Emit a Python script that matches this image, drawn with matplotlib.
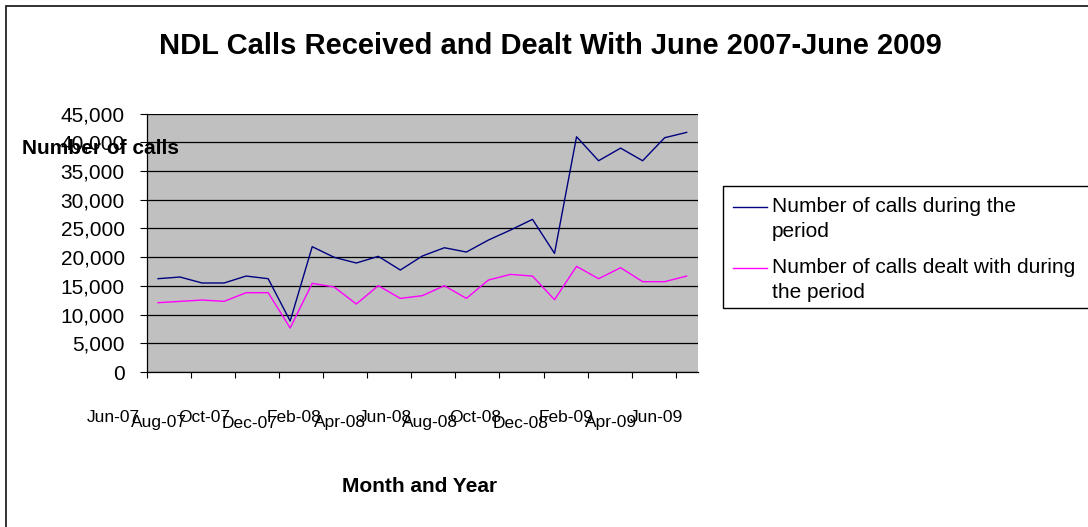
import matplotlib
matplotlib.use("Agg")
import matplotlib.pyplot as plt
from matplotlib.patches import Rectangle
from matplotlib.lines import Line2D
from matplotlib.transforms import blended_transform_factory
from matplotlib.ticker import FuncFormatter
from matplotlib import font_manager

plt.rcParams['font.family'] = ['Liberation Sans', 'DejaVu Sans']

months = ["Jun-07", "Jul-07", "Aug-07", "Sep-07", "Oct-07", "Nov-07", "Dec-07",
          "Jan-08", "Feb-08", "Mar-08", "Apr-08", "May-08", "Jun-08", "Jul-08",
          "Aug-08", "Sep-08", "Oct-08", "Nov-08", "Dec-08", "Jan-09", "Feb-09",
          "Mar-09", "Apr-09", "May-09", "Jun-09"]
calls_received = [16250, 16540, 15500, 15500, 16710, 16250, 8880, 21820, 19970,
                  18980, 20140, 17760, 20200, 21640, 20890, 22980, 24720, 26580,
                  20660, 40970, 36790, 38990, 36790, 40800, 41730]
calls_dealt = [12070, 12300, 12530, 12300, 13810, 13810, 7660, 15440, 14800,
               11840, 15030, 12820, 13290, 15030, 12820, 16020, 17000, 16710,
               12590, 18400, 16250, 18160, 15730, 15730, 16710]
series_names = ["Number of calls during the\nperiod",
                "Number of calls dealt with during\nthe period"]
colors = ["#000080", "#FF00FF"]

# month labels are squeezed; use the narrow face if it's there
installed = {f.name for f in font_manager.fontManager.ttflist}
if "Liberation Sans Narrow" in installed:
    month_font, month_size = "Liberation Sans Narrow", 14.8
else:
    month_font, month_size = "Liberation Sans", 12.5

W, H = 1088, 527
fig = plt.figure(figsize=(W / 100, H / 100), dpi=100)
fig.patch.set_facecolor("white")


def fx(px):
    return px / W


def fy(py):
    return 1 - py / H


# outer chart frame (runs off the right/bottom edge)
fig.patches.append(Rectangle((fx(6), fy(560)), fx(1200), fy(6) - fy(560),
                             transform=fig.transFigure, fill=False,
                             edgecolor="#222222", linewidth=1.3))

ax = fig.add_axes([fx(147), fy(372), fx(697.7) - fx(147), fy(113.6) - fy(372)])
ax.set_facecolor("#C0C0C0")
x = list(range(len(months)))
ax.plot(x, calls_received, color=colors[0], linewidth=1.0)
ax.plot(x, calls_dealt, color=colors[1], linewidth=1.0)

ax.set_xlim(-0.5, len(months) - 0.5)
ax.set_ylim(0, 45000)
ax.set_yticks(range(0, 45001, 5000))
ax.yaxis.set_major_formatter(FuncFormatter(lambda v, p: f"{int(v):,}"))
ax.grid(axis="y", color="black", linewidth=0.9)
ax.set_axisbelow(True)
ax.set_xticks([i - 0.5 for i in range(0, len(months), 2)])
ax.set_xticklabels([])
ax.tick_params(axis="y", direction="out", length=5, width=0.8, pad=11,
               labelsize=15)
ax.tick_params(axis="x", direction="out", length=4.3, width=0.8)
for side in ["top", "right"]:
    ax.spines[side].set_visible(False)
for side in ["left", "bottom"]:
    ax.spines[side].set_linewidth(0.9)

# staggered month labels every two months (crammed, overlapping)
trans = blended_transform_factory(ax.transData, fig.transFigure)
for k, i in enumerate(range(0, len(months), 2)):
    ypos = fy(417) if k % 2 == 0 else fy(423)
    ax.text(i * 1.027 - 2.02, ypos, months[i], transform=trans, ha="center",
            va="center", fontsize=month_size, family=[month_font, "DejaVu Sans"],
            clip_on=False)

fig.text(fx(550), fy(46), "NDL Calls Received and Dealt With June 2007-June 2009",
         ha="center", va="center", fontsize=21, fontweight="bold")
fig.text(fx(22), fy(149), "Number of calls", ha="left", va="center",
         fontsize=15, fontweight="bold")
fig.text(fx(420), fy(487), "Month and Year", ha="center", va="center",
         fontsize=15, fontweight="bold")

# legend box
fig.patches.append(Rectangle((fx(723), fy(308)), fx(500), fy(186) - fy(308),
                             transform=fig.transFigure, facecolor="white",
                             edgecolor="black", linewidth=1.0))
for name, color, ly in zip(series_names, colors, [206.5, 267.5]):
    fig.lines.append(Line2D([fx(733), fx(767)], [fy(ly), fy(ly)],
                            transform=fig.transFigure, color=color,
                            linewidth=1.0))
    for j, part in enumerate(name.split("\n")):
        fig.text(fx(772), fy(ly + 25 * j), part, ha="left", va="center",
                 fontsize=15)

fig.savefig("out.png", dpi=100)
